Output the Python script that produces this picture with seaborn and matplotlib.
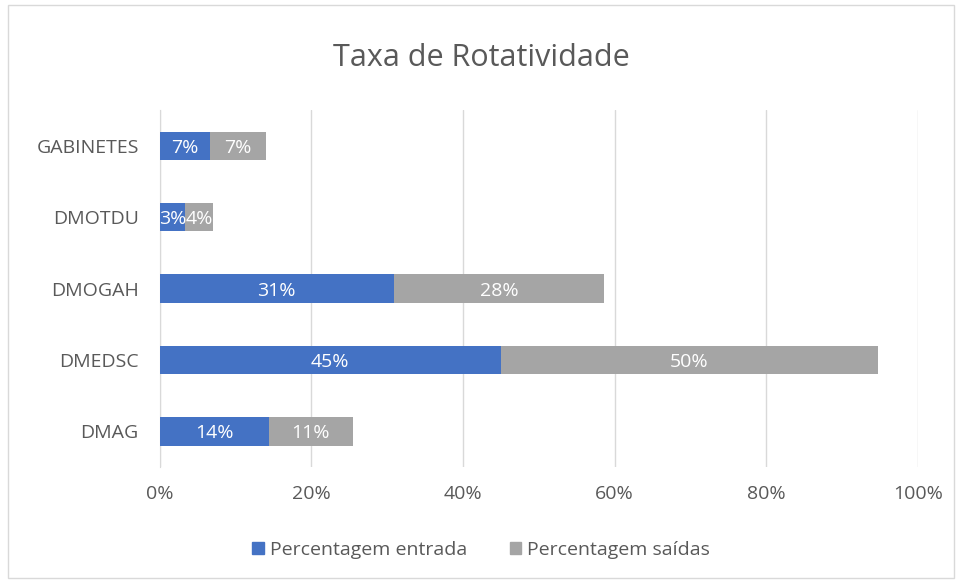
import pandas as pd
import matplotlib.pyplot as plt
import seaborn as sns
from matplotlib.ticker import PercentFormatter
from matplotlib.patches import Rectangle

# Data
setores = ['GABINETES', 'DMOTDU', 'DMOGAH', 'DMEDSC', 'DMAG']
entrada = [0.066, 0.034, 0.309, 0.450, 0.144]
saidas = [0.074, 0.036, 0.277, 0.497, 0.111]

df = pd.DataFrame({'setor': setores, 'entrada': entrada, 'saidas': saidas})
df['total'] = df['entrada'] + df['saidas']

sns.set_style('white')
plt.rcParams['font.family'] = ['Open Sans', 'DejaVu Sans']

blue = '#4472C4'
gray = '#A5A5A5'
txt = '#595959'

fig = plt.figure(figsize=(9.62, 5.83), dpi=100)
ax = fig.add_axes([0.166, 0.199, 0.788, 0.612])

sns.barplot(data=df, y='setor', x='total', color=gray, width=0.4, ax=ax,
            orient='h', saturation=1, linewidth=0, zorder=3)
sns.barplot(data=df, y='setor', x='entrada', color=blue, width=0.4, ax=ax,
            orient='h', saturation=1, linewidth=0, zorder=3)

# labels in the middle of each segment
for bar, e in zip(ax.containers[1], df['entrada']):
    ax.text(bar.get_x() + bar.get_width() / 2, bar.get_y() + bar.get_height() / 2,
            f'{e:.0%}', ha='center', va='center_baseline', color='white',
            fontsize=14, zorder=4)
for bar, e, s in zip(ax.containers[0], df['entrada'], df['saidas']):
    ax.text(e + s / 2, bar.get_y() + bar.get_height() / 2,
            f'{s:.0%}', ha='center', va='center_baseline', color='white',
            fontsize=14, zorder=4)

ax.set_xlim(0, 1)
ax.set_xticks([0, 0.2, 0.4, 0.6, 0.8, 1.0])
ax.xaxis.set_major_formatter(PercentFormatter(1, decimals=0))
ax.grid(axis='x', color='#D9D9D9', linewidth=1, zorder=0)
ax.set_xlabel('')
ax.set_ylabel('')
ax.tick_params(axis='both', length=0, labelsize=14, labelcolor=txt)
ax.tick_params(axis='y', pad=15)
ax.tick_params(axis='x', pad=13)
for side in ['top', 'right', 'bottom']:
    ax.spines[side].set_visible(False)
ax.spines['left'].set_color('#D9D9D9')

fig.text(0.5, 0.9, 'Taxa de Rotatividade', ha='center', va='center',
         fontsize=22, color=txt)

handles = [Rectangle((0, 0), 1, 1, color=blue), Rectangle((0, 0), 1, 1, color=gray)]
fig.legend(handles, ['Percentagem entrada', 'Percentagem saídas'], loc='center',
           bbox_to_anchor=(0.5, 0.057), ncol=2, frameon=False, fontsize=14,
           handlelength=0.6, handleheight=0.6, handletextpad=0.3, columnspacing=2.2,
           labelcolor=txt)

# outer border of the chart area
fig.patches.append(Rectangle((0.008, 0.008), 0.984, 0.984, transform=fig.transFigure,
                             fill=False, edgecolor='#D9D9D9', linewidth=1))

fig.savefig('out.png', dpi=100)
